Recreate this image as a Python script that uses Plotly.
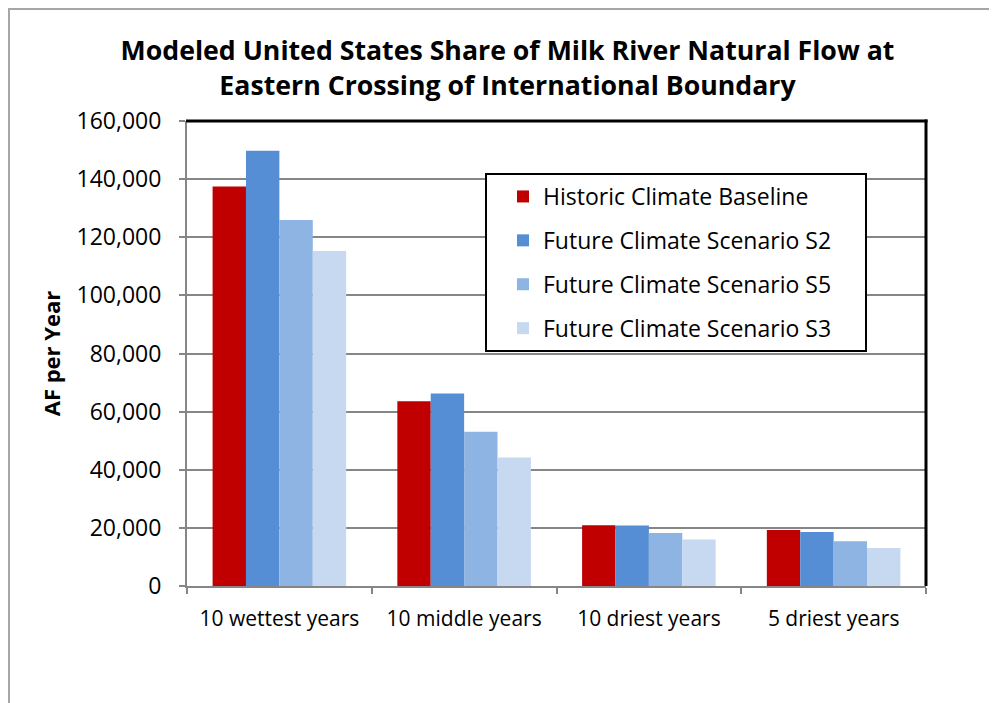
import plotly.graph_objects as go

categories = ["10 wettest years", "10 middle years", "10 driest years", "5 driest years"]
series_names = ["Historic Climate Baseline", "Future Climate Scenario S2",
                "Future Climate Scenario S5", "Future Climate Scenario S3"]
historic = [137500, 63600, 20900, 19300]
s2 = [149800, 66200, 20800, 18600]
s5 = [125900, 53100, 18200, 15400]
s3 = [115300, 44200, 16000, 13100]
colors = ["#C00000", "#558ED5", "#8EB4E3", "#C6D9F1"]
y_ticks = [0, 20000, 40000, 60000, 80000, 100000, 120000, 140000, 160000]
y_ticktext = ["0", "20,000", "40,000", "60,000", "80,000", "100,000", "120,000", "140,000", "160,000"]

OFF = 8  # page body margin
W, H = 997 - OFF, 703 - OFF
L, R, T, B = 187 - OFF, 926 - OFF, 121 - OFF, 586 - OFF
pw, ph = R - L, B - T


def px(x):  # page x -> paper
    return (x - OFF - L) / pw


def py(y):  # page y -> paper
    return (B - (y - OFF)) / ph


FONT = "Open Sans"
fig = go.Figure()
for name, vals, col in zip(series_names, [historic, s2, s5, s3], colors):
    fig.add_trace(go.Bar(x=categories, y=vals, name=name, marker_color=col,
                         marker_line_width=0, legendgroup=name))

shapes = [
    # outer chart border
    dict(type="rect", xref="paper", yref="paper", x0=px(9), x1=px(1010), y0=py(720), y1=py(9),
         line=dict(color="#A6A6A6", width=2), layer="below"),
    # legend box
    dict(type="rect", xref="paper", yref="paper", x0=px(486), x1=px(866), y0=py(351), y1=py(174),
         line=dict(color="black", width=2), fillcolor="white", layer="above"),
    # top and right plot border
    dict(type="line", xref="paper", yref="paper", x0=px(186), x1=px(927.5), y0=1, y1=1,
         line=dict(color="black", width=3), layer="above"),
    dict(type="line", xref="paper", yref="paper", x0=1, x1=1, y0=0, y1=py(119.5),
         line=dict(color="black", width=3), layer="above"),
]

fig.update_layout(
    width=W, height=H,
    margin=dict(l=L, r=W - R, t=T, b=H - B, pad=0),
    paper_bgcolor="white", plot_bgcolor="white",
    font=dict(family=FONT, color="black", size=22),
    title=dict(text="Modeled United States Share of Milk River Natural Flow at<br>Eastern Crossing of International Boundary",
               x=(507.5 - OFF) / W, xanchor="center", y=1 - (60 - OFF) / H, yanchor="middle",
               font=dict(family=FONT, size=26.7, color="black", weight="bold")),
    barmode="group", bargap=0.277, bargroupgap=0,
    showlegend=True,
    legend=dict(x=px(503), y=py(175), xanchor="left", yanchor="top",
                bgcolor="rgba(0,0,0,0)", borderwidth=0, traceorder="grouped",
                tracegroupgap=11, font=dict(family=FONT, size=23, color="black")),
    shapes=shapes,
    xaxis=dict(type="category", showline=True, linecolor="#868686", linewidth=2,
               ticks="outside", tickson="boundaries", ticklen=6, tickcolor="#868686", tickwidth=2,
               ticklabelstandoff=13, tickfont=dict(family=FONT, size=21, color="black"),
               showgrid=False),
    yaxis=dict(range=[0, 160000], tickvals=y_ticks, ticktext=y_ticktext,
               showline=True, linecolor="#868686", linewidth=2,
               ticks="outside", ticklen=6, tickcolor="#868686", tickwidth=2,
               ticklabelstandoff=13, tickfont=dict(family=FONT, size=23, color="black"),
               showgrid=True, gridcolor="#868686", gridwidth=1.5, zeroline=False,
               title=dict(text="AF per Year", standoff=10,
                          font=dict(family=FONT, size=22, color="black", weight="bold"))),
)

fig.write_html("out.html")
